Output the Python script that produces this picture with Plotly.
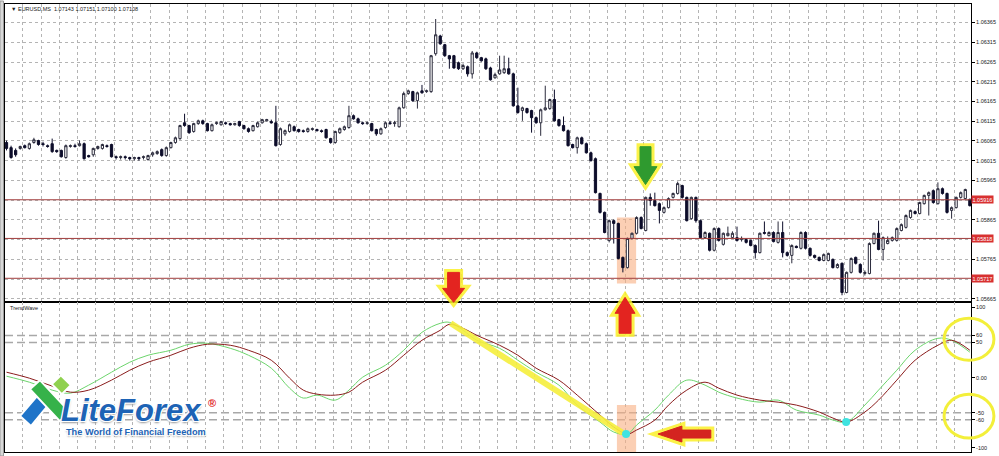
import plotly.graph_objects as go

# ---------------- price data (EURUSD, one candle per bar) ----------------
open_ = [
    1.06061, 1.06048, 1.06041, 1.06046, 1.06053, 1.06046, 1.06061, 1.06066, 1.06058, 1.06053,
    1.06058, 1.06041, 1.06041, 1.06023, 1.06051, 1.06053, 1.06053, 1.06058, 1.06028, 1.06030,
    1.06046, 1.06046, 1.06053, 1.06056, 1.06025, 1.06023, 1.06025, 1.06023, 1.06020, 1.06023,
    1.06023, 1.06018, 1.06030, 1.06033, 1.06043, 1.06028, 1.06048, 1.06061, 1.06071, 1.06111,
    1.06104, 1.06089, 1.06109, 1.06116, 1.06109, 1.06091, 1.06109, 1.06106, 1.06111, 1.06109,
    1.06106, 1.06114, 1.06104, 1.06096, 1.06091, 1.06101, 1.06111, 1.06116, 1.06114, 1.06111,
    1.06056, 1.06083, 1.06089, 1.06101, 1.06094, 1.06091, 1.06089, 1.06094, 1.06094, 1.06091,
    1.06094, 1.06071, 1.06061, 1.06086, 1.06094, 1.06099, 1.06129, 1.06121, 1.06111, 1.06109,
    1.06109, 1.06094, 1.06083, 1.06099, 1.06111, 1.06109, 1.06101, 1.06149, 1.06185, 1.06190,
    1.06167, 1.06192, 1.06190, 1.06190, 1.06286, 1.06331, 1.06309, 1.06281, 1.06281, 1.06263,
    1.06248, 1.06253, 1.06235, 1.06288, 1.06276, 1.06273, 1.06250, 1.06225, 1.06235, 1.06238,
    1.06248, 1.06235, 1.06154, 1.06142, 1.06147, 1.06142, 1.06124, 1.06111, 1.06144, 1.06147,
    1.06170, 1.06119, 1.06104, 1.06091, 1.06056, 1.06048, 1.06073, 1.06058, 1.06035, 1.06020,
    1.05932, 1.05884, 1.05813, 1.05863, 1.05856, 1.05770, 1.05744, 1.05818, 1.05831, 1.05871,
    1.05838, 1.05922, 1.05914, 1.05906, 1.05884, 1.05896, 1.05922, 1.05932, 1.05952, 1.05922,
    1.05868, 1.05922, 1.05863, 1.05820, 1.05831, 1.05788, 1.05843, 1.05803, 1.05825, 1.05820,
    1.05820, 1.05815, 1.05815, 1.05813, 1.05800, 1.05782, 1.05833, 1.05825, 1.05833, 1.05808,
    1.05833, 1.05782, 1.05775, 1.05798, 1.05793, 1.05833, 1.05793, 1.05775, 1.05770, 1.05762,
    1.05762, 1.05765, 1.05744, 1.05755, 1.05681, 1.05732, 1.05770, 1.05752, 1.05729, 1.05729,
    1.05805, 1.05831, 1.05790, 1.05805, 1.05813, 1.05813, 1.05838, 1.05846, 1.05871, 1.05886,
    1.05881, 1.05906, 1.05927, 1.05939, 1.05906, 1.05944, 1.05932, 1.05889, 1.05896, 1.05922,
    1.05919, 1.05917,
]
high = [
    1.06066, 1.06053, 1.06046, 1.06053, 1.06056, 1.06061, 1.06073, 1.06068, 1.06063, 1.06056,
    1.06071, 1.06043, 1.06043, 1.06056, 1.06056, 1.06058, 1.06066, 1.06061, 1.06030, 1.06048,
    1.06053, 1.06058, 1.06056, 1.06058, 1.06028, 1.06028, 1.06028, 1.06025, 1.06025, 1.06025,
    1.06028, 1.06030, 1.06038, 1.06041, 1.06046, 1.06051, 1.06063, 1.06076, 1.06106, 1.06134,
    1.06106, 1.06111, 1.06119, 1.06119, 1.06111, 1.06109, 1.06114, 1.06116, 1.06114, 1.06111,
    1.06111, 1.06116, 1.06106, 1.06099, 1.06106, 1.06114, 1.06121, 1.06121, 1.06119, 1.06154,
    1.06099, 1.06094, 1.06109, 1.06104, 1.06096, 1.06094, 1.06099, 1.06099, 1.06096, 1.06094,
    1.06096, 1.06073, 1.06091, 1.06099, 1.06104, 1.06154, 1.06132, 1.06124, 1.06114, 1.06114,
    1.06111, 1.06096, 1.06099, 1.06114, 1.06116, 1.06116, 1.06152, 1.06190, 1.06195, 1.06192,
    1.06190, 1.06207, 1.06195, 1.06283, 1.06374, 1.06334, 1.06311, 1.06283, 1.06283, 1.06266,
    1.06261, 1.06256, 1.06293, 1.06291, 1.06278, 1.06276, 1.06253, 1.06238, 1.06281, 1.06281,
    1.06276, 1.06238, 1.06200, 1.06152, 1.06149, 1.06144, 1.06127, 1.06147, 1.06205, 1.06172,
    1.06195, 1.06121, 1.06127, 1.06094, 1.06058, 1.06076, 1.06076, 1.06061, 1.06038, 1.06023,
    1.05934, 1.05886, 1.05866, 1.05866, 1.05858, 1.05772, 1.05820, 1.05833, 1.05874, 1.05874,
    1.05924, 1.05932, 1.05934, 1.05909, 1.05899, 1.05922, 1.05934, 1.05962, 1.05954, 1.05924,
    1.05924, 1.05924, 1.05866, 1.05836, 1.05833, 1.05846, 1.05846, 1.05833, 1.05848, 1.05836,
    1.05848, 1.05823, 1.05818, 1.05815, 1.05803, 1.05833, 1.05861, 1.05836, 1.05836, 1.05861,
    1.05861, 1.05785, 1.05803, 1.05800, 1.05836, 1.05836, 1.05795, 1.05777, 1.05772, 1.05780,
    1.05782, 1.05767, 1.05755, 1.05757, 1.05734, 1.05770, 1.05772, 1.05755, 1.05737, 1.05808,
    1.05833, 1.05863, 1.05823, 1.05823, 1.05823, 1.05846, 1.05856, 1.05879, 1.05891, 1.05889,
    1.05911, 1.05929, 1.05937, 1.05942, 1.05960, 1.05947, 1.05934, 1.05899, 1.05924, 1.05937,
    1.05944, 1.05919,
]
low = [
    1.06041, 1.06020, 1.06025, 1.06043, 1.06046, 1.06043, 1.06058, 1.06053, 1.06051, 1.06048,
    1.06035, 1.06035, 1.06023, 1.06020, 1.06048, 1.06048, 1.06051, 1.06018, 1.06023, 1.06025,
    1.06043, 1.06043, 1.06048, 1.06023, 1.06018, 1.06018, 1.06018, 1.06015, 1.06015, 1.06015,
    1.06018, 1.06015, 1.06025, 1.06030, 1.06025, 1.06025, 1.06046, 1.06058, 1.06068, 1.06101,
    1.06083, 1.06086, 1.06106, 1.06106, 1.06089, 1.06089, 1.06106, 1.06104, 1.06106, 1.06104,
    1.06104, 1.06101, 1.06094, 1.06086, 1.06089, 1.06099, 1.06109, 1.06114, 1.06109, 1.06051,
    1.06053, 1.06078, 1.06086, 1.06089, 1.06086, 1.06086, 1.06086, 1.06091, 1.06089, 1.06086,
    1.06071, 1.06058, 1.06058, 1.06083, 1.06091, 1.06096, 1.06119, 1.06109, 1.06106, 1.06106,
    1.06089, 1.06078, 1.06081, 1.06096, 1.06106, 1.06101, 1.06099, 1.06147, 1.06182, 1.06164,
    1.06147, 1.06185, 1.06187, 1.06187, 1.06281, 1.06309, 1.06278, 1.06248, 1.06248, 1.06245,
    1.06245, 1.06228, 1.06223, 1.06273, 1.06266, 1.06245, 1.06218, 1.06223, 1.06233, 1.06235,
    1.06233, 1.06152, 1.06134, 1.06116, 1.06134, 1.06086, 1.06109, 1.06078, 1.06142, 1.06144,
    1.06114, 1.06101, 1.06089, 1.06051, 1.06046, 1.06033, 1.06056, 1.06033, 1.06013, 1.05932,
    1.05881, 1.05831, 1.05808, 1.05805, 1.05765, 1.05732, 1.05742, 1.05815, 1.05828, 1.05841,
    1.05836, 1.05901, 1.05899, 1.05856, 1.05881, 1.05894, 1.05919, 1.05929, 1.05919, 1.05861,
    1.05866, 1.05858, 1.05818, 1.05818, 1.05785, 1.05785, 1.05810, 1.05800, 1.05823, 1.05818,
    1.05810, 1.05810, 1.05805, 1.05798, 1.05767, 1.05780, 1.05828, 1.05823, 1.05808, 1.05805,
    1.05770, 1.05772, 1.05755, 1.05793, 1.05790, 1.05790, 1.05772, 1.05767, 1.05760, 1.05760,
    1.05760, 1.05742, 1.05742, 1.05674, 1.05679, 1.05729, 1.05752, 1.05729, 1.05724, 1.05727,
    1.05803, 1.05788, 1.05762, 1.05803, 1.05810, 1.05810, 1.05836, 1.05843, 1.05868, 1.05879,
    1.05879, 1.05904, 1.05876, 1.05906, 1.05904, 1.05929, 1.05881, 1.05868, 1.05894, 1.05919,
    1.05917, 1.05899,
]
close = [
    1.06046, 1.06023, 1.06030, 1.06051, 1.06048, 1.06058, 1.06068, 1.06056, 1.06056, 1.06051,
    1.06038, 1.06038, 1.06025, 1.06053, 1.06053, 1.06051, 1.06058, 1.06020, 1.06025, 1.06046,
    1.06051, 1.06056, 1.06051, 1.06025, 1.06023, 1.06025, 1.06023, 1.06020, 1.06023, 1.06020,
    1.06025, 1.06028, 1.06035, 1.06038, 1.06028, 1.06048, 1.06061, 1.06073, 1.06104, 1.06104,
    1.06086, 1.06109, 1.06116, 1.06109, 1.06091, 1.06106, 1.06111, 1.06114, 1.06109, 1.06106,
    1.06109, 1.06104, 1.06096, 1.06089, 1.06104, 1.06111, 1.06119, 1.06119, 1.06111, 1.06053,
    1.06096, 1.06091, 1.06106, 1.06091, 1.06089, 1.06089, 1.06096, 1.06096, 1.06091, 1.06089,
    1.06073, 1.06061, 1.06089, 1.06096, 1.06101, 1.06129, 1.06121, 1.06111, 1.06109, 1.06111,
    1.06091, 1.06083, 1.06096, 1.06111, 1.06109, 1.06111, 1.06149, 1.06185, 1.06192, 1.06167,
    1.06187, 1.06187, 1.06192, 1.06281, 1.06334, 1.06311, 1.06281, 1.06273, 1.06250, 1.06248,
    1.06256, 1.06235, 1.06288, 1.06276, 1.06268, 1.06248, 1.06220, 1.06233, 1.06245, 1.06248,
    1.06235, 1.06154, 1.06137, 1.06149, 1.06137, 1.06124, 1.06111, 1.06144, 1.06149, 1.06170,
    1.06116, 1.06104, 1.06091, 1.06053, 1.06048, 1.06073, 1.06058, 1.06035, 1.06015, 1.05934,
    1.05884, 1.05833, 1.05863, 1.05856, 1.05767, 1.05744, 1.05818, 1.05831, 1.05871, 1.05843,
    1.05922, 1.05914, 1.05901, 1.05889, 1.05896, 1.05919, 1.05932, 1.05957, 1.05922, 1.05863,
    1.05922, 1.05863, 1.05820, 1.05833, 1.05788, 1.05843, 1.05813, 1.05831, 1.05831, 1.05831,
    1.05813, 1.05818, 1.05808, 1.05800, 1.05782, 1.05831, 1.05831, 1.05833, 1.05810, 1.05833,
    1.05782, 1.05775, 1.05800, 1.05795, 1.05833, 1.05793, 1.05775, 1.05770, 1.05762, 1.05777,
    1.05780, 1.05744, 1.05752, 1.05681, 1.05732, 1.05767, 1.05755, 1.05732, 1.05732, 1.05805,
    1.05831, 1.05790, 1.05820, 1.05813, 1.05820, 1.05843, 1.05853, 1.05876, 1.05889, 1.05881,
    1.05909, 1.05927, 1.05934, 1.05909, 1.05944, 1.05932, 1.05884, 1.05896, 1.05922, 1.05934,
    1.05942, 1.05901,
]
bars = list(range(len(close)))

# horizontal support/resistance levels (red lines with axis labels)
levels = [1.05916, 1.05818, 1.05717]

# price axis labels
price_ticks = [1.06365, 1.06315, 1.06265, 1.06215, 1.06165, 1.06115, 1.06065, 1.06015,
               1.05965, 1.05915, 1.05865, 1.05815, 1.05765, 1.05715, 1.05665]
price_labels = ["1.06365", "1.06315", "1.06265", "1.06215", "1.06165", "1.06115", "1.06065",
                "1.06015", "1.05965", "", "1.05865", "", "1.05765", "", "1.05665"]

# ---------------- TrendWave indicator ----------------
wave_x = [0, 5, 10, 14, 18, 23, 27, 31, 36, 40, 44, 49, 53, 58, 62, 65, 68, 72, 75, 78,
          83, 87, 91, 95, 97, 100, 103, 108, 112, 116, 121, 125, 130, 133, 136, 138, 142,
          145, 149, 153, 156, 160, 165, 169, 173, 178, 181, 184, 188, 191, 195, 199, 204,
          207, 211]
wave_red = [7.8, -0.7, -12, -20.6, -17.7, -3.5, 10.6, 22, 31.9, 41.8, 47.5, 46.1, 39, 24.8,
            -0.7, -17.7, -23.4, -24.8, -20.6, -6.4, 10.6, 31.9, 53.2, 67.4, 75.9, 70.2, 60.3,
            46.1, 31.9, 13.5, -3.5, -24.8, -53.2, -70.2, -80.1, -74.5, -60.3, -39, -17.7,
            -6.4, -14.9, -24.8, -31.9, -34.8, -39, -48.9, -57.4, -63.1, -48.9, -31.9, -3.5,
            24.8, 46.1, 53.2, 39]
wave_green = [2.1, -6.4, -17.7, -22, -10.6, 7.8, 22, 31.9, 39, 47.5, 48.9, 41.8, 31.9, 13.5,
              -14.9, -29, -24.8, -31.9, -17.7, 0.7, 17.7, 39, 64.5, 77.3, 78.7, 67.4, 53.2,
              41.8, 24.8, 7.8, -10.6, -39, -63.1, -77.3, -80.1, -67.4, -46.1, -24.8, -3.5,
              -10.6, -20.6, -29, -34.8, -31.9, -46.1, -53.2, -60.3, -63.1, -39, -17.7, 10.6,
              39, 56, 53.2, 36.2]
wave_ticks = [100, 60, 50, 0, -50, -60, -100]
wave_labels = ["100", "60", "50", "0.00", "-50", "-60", "-100"]
wave_levels = [60, 50, -50, -60]

# annotation marks drawn on the indicator
signal_line_x = [97.3, 135.0]
signal_line_y = [77.3, -78.7]
signal_dot_x = [135.7, 183.9]
signal_dot_y = [-80.1, -63.1]

# ---------------- geometry helpers (pixel -> paper) ----------------
W, H = 999, 456
ML, MR, MT, MB = 5, 25, 3, 4


def px(x):
    return (x - ML) / (W - ML - MR)


def py(y):
    return (H - MB - y) / (H - MT - MB)


def path(points):
    s = "M " + " L ".join(f"{px(x):.5f},{py(y):.5f}" for x, y in points) + " Z"
    return s


fig = go.Figure()

fig.add_trace(go.Candlestick(
    x=bars, open=open_, high=high, low=low, close=close,
    increasing=dict(line=dict(color="#2b2b3c", width=1), fillcolor="#ffffff"),
    decreasing=dict(line=dict(color="#0d0d2a", width=1), fillcolor="#0d0d2a"),
    whiskerwidth=0, showlegend=False, hoverinfo="skip",
    xaxis="x", yaxis="y",
))

fig.add_trace(go.Scatter(x=wave_x, y=wave_green, mode="lines", line=dict(color="#6cd46c", width=1, shape="spline"),
                         xaxis="x2", yaxis="y2", showlegend=False, hoverinfo="skip"))
fig.add_trace(go.Scatter(x=wave_x, y=wave_red, mode="lines", line=dict(color="#8a1c1c", width=1, shape="spline"),
                         xaxis="x2", yaxis="y2", showlegend=False, hoverinfo="skip"))
fig.add_trace(go.Scatter(x=signal_line_x, y=signal_line_y, mode="lines",
                         line=dict(color="rgba(245,238,60,0.9)", width=6),
                         xaxis="x2", yaxis="y2", showlegend=False, hoverinfo="skip"))
fig.add_trace(go.Scatter(x=signal_dot_x, y=signal_dot_y, mode="markers",
                         marker=dict(color="#3fe3e0", size=8, line=dict(width=0)),
                         xaxis="x2", yaxis="y2", showlegend=False, hoverinfo="skip"))

shapes = []
# highlighted bars
shapes.append(dict(type="rect", xref="x", yref="y", x0=133.7, x1=137.9, y0=1.05704, y1=1.05871,
                   fillcolor="rgba(248,175,130,0.6)", line=dict(width=0), layer="between"))
shapes.append(dict(type="rect", xref="x2", yref="y2", x0=133.7, x1=137.9, y0=-105.7, y1=-39,
                   fillcolor="rgba(248,175,130,0.6)", line=dict(width=0), layer="between"))
# red levels
for lv in levels:
    shapes.append(dict(type="line", xref="paper", yref="y", x0=0, x1=1, y0=lv, y1=lv,
                       line=dict(color="#a03c3c", width=1), layer="above"))
# indicator dashed levels
for lv in wave_levels:
    shapes.append(dict(type="line", xref="paper", yref="y2", x0=0, x1=1, y0=lv, y1=lv,
                       line=dict(color="#a8a8a8", width=1.5, dash="8px,4px"), layer="between"))

# arrows (glow + body)
arrows = [
    ([(642, 146), (653, 146), (653, 166), (659, 166), (647.5, 184), (636, 166), (642, 166)], "#2f9a2f"),
    ([(449, 272), (461, 272), (461, 288), (466, 288), (455, 302), (444, 288), (449, 288)], "#e32420"),
    ([(627, 297), (637, 313), (633, 313), (633, 333), (621, 333), (621, 313), (617, 313)], "#e32420"),
    ([(660, 434), (684, 426), (684, 430), (713, 430), (713, 438), (684, 438), (684, 442)], "#d42420"),
]
for pts, col in arrows:
    shapes.append(dict(type="path", xref="paper", yref="paper", path=path(pts),
                       fillcolor="rgba(250,240,40,0.85)", line=dict(color="rgba(250,240,40,0.85)", width=7),
                       layer="above"))
    shapes.append(dict(type="path", xref="paper", yref="paper", path=path(pts),
                       fillcolor=col, line=dict(color=col, width=1), layer="above"))

# yellow ellipses on the indicator scale
for y0, y1 in [(318, 360), (394, 438)]:
    shapes.append(dict(type="circle", xref="paper", yref="paper", x0=px(947), x1=px(997),
                       y0=py(y1), y1=py(y0), line=dict(color="#f3ef3a", width=3), layer="above"))

# logo icon (stylised X made of two ribbons)
shapes.append(dict(type="path", xref="paper", yref="paper",
                   path=path([(20, 416), (44, 388), (55, 397), (31, 426)]),
                   fillcolor="#1f74c8", line=dict(color="white", width=2), layer="above"))
shapes.append(dict(type="path", xref="paper", yref="paper",
                   path=path([(30, 389), (40, 380), (70, 412), (60, 421)]),
                   fillcolor="#36b24a", line=dict(color="white", width=2), layer="above"))
shapes.append(dict(type="path", xref="paper", yref="paper",
                   path=path([(52, 384), (61, 375), (71, 385), (62, 394)]),
                   fillcolor="#8fd14f", line=dict(color="white", width=2), layer="above"))

# window frame at the left edge
shapes.append(dict(type="rect", xref="paper", yref="paper", x0=px(0), x1=px(3.5), y0=py(456), y1=py(0),
                   fillcolor="#d8d8d8", line=dict(color="#9a9a9a", width=1), layer="above"))

annotations = []
annotations.append(dict(xref="paper", yref="paper", x=px(9), y=py(8), xanchor="left", yanchor="middle",
                        text="▼ EURUSD.MS  1.07143 1.07151 1.07100 1.07108", showarrow=False,
                        font=dict(family="Liberation Sans", size=5.5, color="#202020")))
annotations.append(dict(xref="paper", yref="paper", x=px(8), y=py(308), xanchor="left", yanchor="middle",
                        text="TrendWave", showarrow=False,
                        font=dict(family="Liberation Sans", size=5.5, color="#202020")))
for lv in levels:
    annotations.append(dict(xref="paper", yref="y", x=1.0, y=lv, xanchor="left", yanchor="middle",
                            text=f"{lv:.5f}", showarrow=False, bgcolor="#d83030", borderpad=0.5,
                            font=dict(family="Liberation Sans", size=5.5, color="white")))

outline = "1px 1px 0 #fff, -1px -1px 0 #fff, 1px -1px 0 #fff, -1px 1px 0 #fff, 0 2px 2px #999"
annotations.append(dict(xref="paper", yref="paper", x=px(59), y=py(410), xanchor="left", yanchor="middle",
                        text="LiteForex", showarrow=False,
                        font=dict(family="Liberation Sans", size=31, color="#1d63b5",
                                  weight="bold", style="italic", shadow=outline)))
annotations.append(dict(xref="paper", yref="paper", x=px(207), y=py(403), xanchor="left", yanchor="middle",
                        text="®", showarrow=False,
                        font=dict(family="Liberation Sans", size=11, color="#e02020", weight="bold")))
annotations.append(dict(xref="paper", yref="paper", x=px(64), y=py(432), xanchor="left", yanchor="middle",
                        text="The World of Financial Freedom", showarrow=False,
                        font=dict(family="Liberation Sans", size=9.2, color="#1d63b5",
                                  weight="bold", shadow=outline)))

axis_font = dict(family="Liberation Sans", size=5.5, color="#202020")

fig.update_layout(
    width=W, height=H,
    margin=dict(l=ML, r=MR, t=MT, b=MB),
    paper_bgcolor="white", plot_bgcolor="white",
    showlegend=False,
    shapes=shapes, annotations=annotations,
    xaxis=dict(domain=[0, 1], anchor="y", range=[-0.33, 211.25], tickmode="linear", tick0=3.6, dtick=4,
               showticklabels=False, ticks="", showgrid=True, gridcolor="#b4b4b4", griddash="dot",
               gridwidth=1, zeroline=False, showline=True, mirror=True, linecolor="#000000", linewidth=1,
               rangeslider=dict(visible=False)),
    yaxis=dict(domain=[0.334, 1], anchor="x", side="right", range=[1.05656, 1.06412],
               tickmode="array", tickvals=price_ticks, ticktext=price_labels, tickfont=axis_font,
               ticks="outside", ticklen=3, tickcolor="#000", showgrid=True, gridcolor="#b4b4b4",
               griddash="dot", gridwidth=1, zeroline=False, showline=True, mirror=True,
               linecolor="#000000", linewidth=1),
    xaxis2=dict(domain=[0, 1], anchor="y2", matches="x", range=[-0.33, 211.25], tickmode="linear",
                tick0=3.6, dtick=4, showticklabels=False, ticks="", showgrid=True, gridcolor="#b4b4b4",
                griddash="dot", gridwidth=1, zeroline=False, showline=True, mirror=True,
                linecolor="#000000", linewidth=1),
    yaxis2=dict(domain=[0, 0.334], anchor="x2", side="right", range=[-105.7, 107.1],
                tickmode="array", tickvals=wave_ticks, ticktext=wave_labels, tickfont=axis_font,
                ticks="outside", ticklen=3, tickcolor="#000", showgrid=False, zeroline=False,
                showline=True, mirror=True, linecolor="#000000", linewidth=1),
)

fig.write_html("out.html", config={"displayModeBar": False},
               post_script="document.body.style.margin='0';document.body.style.padding='0';")
